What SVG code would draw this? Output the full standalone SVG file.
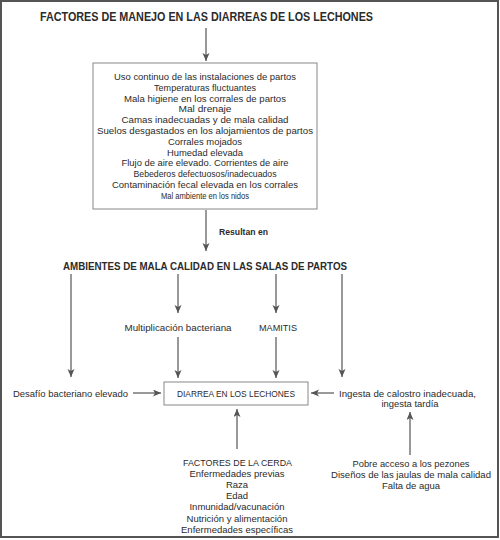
<svg xmlns="http://www.w3.org/2000/svg" width="500" height="540" viewBox="0 0 500 540">
<style>
text{font-family:"Liberation Sans",Arial,sans-serif;fill:#2b2b2b;text-anchor:middle}
.h{font-weight:bold}
.t{font-size:9.5px}
.c{stroke:#555;stroke-width:1.2;fill:none;marker-end:url(#ah)}
.box{fill:#fff;stroke:#888;stroke-width:1}
</style>
<defs>
<marker id="ah" markerUnits="userSpaceOnUse" markerWidth="9" markerHeight="8" refX="8" refY="3.5" orient="auto">
<path d="M0,0 L8,3.5 L0,7 L2,3.5 z" fill="#555"/>
</marker>
</defs>
<rect x="0" y="0" width="500" height="540" fill="#fff"/>
<rect x="1" y="1" width="497" height="536" fill="none" stroke="#555" stroke-width="2"/>

<g id="connectors">
<line class="c" x1="206" y1="28" x2="206" y2="61"/>
<line class="c" x1="206" y1="210" x2="206" y2="251"/>
<line class="c" x1="71" y1="274" x2="71" y2="377"/>
<line class="c" x1="178" y1="274" x2="178" y2="313"/>
<line class="c" x1="276" y1="274" x2="276" y2="313"/>
<line class="c" x1="342" y1="274" x2="342" y2="377"/>
<line class="c" x1="178" y1="337" x2="178" y2="378"/>
<line class="c" x1="276" y1="337" x2="276" y2="378"/>
<line class="c" x1="133" y1="393" x2="161" y2="393"/>
<line class="c" x1="334" y1="393" x2="311" y2="393"/>
<line class="c" x1="237" y1="449" x2="237" y2="409"/>
<line class="c" x1="410" y1="455" x2="410" y2="412"/>
</g>

<g id="title">
<text class="h" x="206.5" y="21" font-size="12.5" textLength="333" lengthAdjust="spacingAndGlyphs">FACTORES DE MANEJO EN LAS DIARREAS DE LOS LECHONES</text>
</g>

<g id="factores-manejo">
<rect class="box" x="93" y="63" width="224" height="146"/>
<text class="t" x="205" y="80" textLength="182" lengthAdjust="spacingAndGlyphs">Uso continuo de las instalaciones de partos</text>
<text class="t" x="205" y="90.8" textLength="102" lengthAdjust="spacingAndGlyphs">Temperaturas fluctuantes</text>
<text class="t" x="205" y="101.6" textLength="162" lengthAdjust="spacingAndGlyphs">Mala higiene en los corrales de partos</text>
<text class="t" x="205" y="112.4" textLength="53" lengthAdjust="spacingAndGlyphs">Mal drenaje</text>
<text class="t" x="205" y="123.2" textLength="167" lengthAdjust="spacingAndGlyphs">Camas inadecuadas y de mala calidad</text>
<text class="t" x="205" y="134" textLength="216" lengthAdjust="spacingAndGlyphs">Suelos desgastados en los alojamientos de partos</text>
<text class="t" x="205" y="144.8" textLength="74" lengthAdjust="spacingAndGlyphs">Corrales mojados</text>
<text class="t" x="205" y="155.6" textLength="76" lengthAdjust="spacingAndGlyphs">Humedad elevada</text>
<text class="t" x="205" y="166.4" textLength="167" lengthAdjust="spacingAndGlyphs">Flujo de aire elevado. Corrientes de aire</text>
<text class="t" x="205" y="177.2" textLength="143" lengthAdjust="spacingAndGlyphs">Bebederos defectuosos/inadecuados</text>
<text class="t" x="205" y="188" textLength="186" lengthAdjust="spacingAndGlyphs">Contaminación fecal elevada en los corrales</text>
<text class="t" x="205" y="198.8" textLength="88" lengthAdjust="spacingAndGlyphs">Mal ambiente en los nidos</text>
</g>

<g id="resultan">
<text class="h" x="243.5" y="234.5" font-size="9.5" textLength="49" lengthAdjust="spacingAndGlyphs">Resultan en</text>
</g>

<g id="ambientes">
<text class="h" x="205" y="269.5" font-size="11.5" textLength="284" lengthAdjust="spacingAndGlyphs">AMBIENTES DE MALA CALIDAD EN LAS SALAS DE PARTOS</text>
</g>

<g id="multiplicacion">
<text class="t" x="178" y="330.5" textLength="107" lengthAdjust="spacingAndGlyphs">Multiplicación bacteriana</text>
</g>

<g id="mamitis">
<text class="t" x="278" y="330.5" textLength="38" lengthAdjust="spacingAndGlyphs">MAMITIS</text>
</g>

<g id="desafio">
<text class="t" x="70.5" y="396.5" textLength="115" lengthAdjust="spacingAndGlyphs">Desafío bacteriano elevado</text>
</g>

<g id="diarrea">
<rect class="box" x="164" y="382" width="144" height="23" stroke="#666"/>
<text class="t" x="236" y="397" textLength="118" lengthAdjust="spacingAndGlyphs">DIARREA EN LOS LECHONES</text>
</g>

<g id="ingesta">
<text class="t" x="407.5" y="396.5" textLength="137" lengthAdjust="spacingAndGlyphs">Ingesta de calostro inadecuada,</text>
<text class="t" x="410" y="407" textLength="57" lengthAdjust="spacingAndGlyphs">ingesta tardía</text>
</g>

<g id="factores-cerda">
<text class="t" x="237.5" y="465.5" textLength="109" lengthAdjust="spacingAndGlyphs">FACTORES DE LA CERDA</text>
<text class="t" x="237" y="476.7">Enfermedades previas</text>
<text class="t" x="237" y="487.9">Raza</text>
<text class="t" x="237" y="499.1">Edad</text>
<text class="t" x="237" y="510.3">Inmunidad/vacunación</text>
<text class="t" x="237" y="521.5">Nutrición y alimentación</text>
<text class="t" x="237" y="532.7">Enfermedades específicas</text>
</g>

<g id="pezones">
<text class="t" x="411" y="467" textLength="117" lengthAdjust="spacingAndGlyphs">Pobre acceso a los pezones</text>
<text class="t" x="411" y="478" textLength="160" lengthAdjust="spacingAndGlyphs">Diseños de las jaulas de mala calidad</text>
<text class="t" x="411" y="489">Falta de agua</text>
</g>
</svg>
